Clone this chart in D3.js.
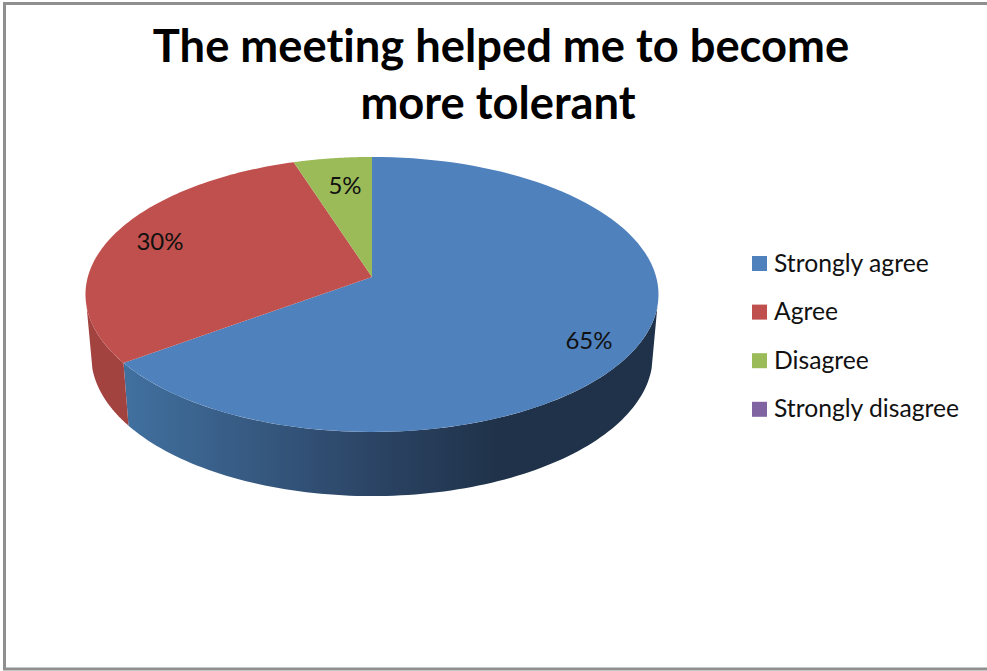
<!DOCTYPE html>
<html><head><meta charset="utf-8">
<script src="https://cdn.jsdelivr.net/npm/d3@7"></script>
<style>html,body{margin:0;padding:0;background:#fff}svg{display:block}text{font-family:Lato,sans-serif;font-variant-ligatures:none}</style>
</head><body><div id="c"></div>
<script>
const titleLines = ["The meeting helped me to become", "more tolerant"];
const categories = ["Strongly agree", "Agree", "Disagree", "Strongly disagree"];
const values = [65, 30, 5, 0];
const colors = ["#4f81bd", "#c0504d", "#9bbb59", "#8064a2"];
const labels = ["65%", "30%", "5%"];

const W = 987, H = 671;
const svg = d3.select("#c").append("svg").attr("width", W).attr("height", H);
svg.append("rect").attr("x", 4.5).attr("y", 3.5).attr("width", W + 10).attr("height", 665.5)
  .attr("fill", "#fff").attr("stroke", "#8f8f8f").attr("stroke-width", 3);

const titleX = [501, 498];
svg.append("g").selectAll("text").data(titleLines).join("text")
  .attr("x", (d, i) => titleX[i]).attr("y", (d, i) => 62 + i * 57)
  .attr("text-anchor", "middle").attr("font-size", 45.3).attr("font-weight", 700).attr("fill", "#000")
  .text(d => d);

// perspective projection of the pie disc
const cx = 372, cy = 277, rx = 284.2, ry = 135.3, k = 0.127;
const lowerCy = 338, lowerSx = 0.98, lowerSy = 1.02;
const px = t => cx + rx * Math.sin(t) / (1 + k * Math.cos(t));
const py = t => cy - ry * Math.cos(t) / (1 + k * Math.cos(t));
const qx = t => cx + lowerSx * (px(t) - cx);
const qy = t => lowerCy + lowerSy * (py(t) - cy);
const arcs = d3.pie().sort(null).value(d => d)(values);
const samples = (a, b) => d3.range(0, 101).map(i => a + (b - a) * i / 100);
const line = d3.line();

const defs = svg.append("defs");
const g = defs.append("linearGradient").attr("id", "side").attr("gradientUnits", "userSpaceOnUse")
  .attr("x1", 125).attr("x2", 500).attr("y1", 0).attr("y2", 0);
[[0, "#41709f"], [0.65, "#2c4566"], [1, "#1f3249"]].forEach(s => g.append("stop").attr("offset", s[0]).attr("stop-color", s[1]));

// visible rim: only the front part of each slice
const frontStart = Math.PI / 2 + 0.217, frontEnd = 3 * Math.PI / 2 - 0.217;
const rim = (a, b) => {
  const s = samples(Math.max(a, frontStart), Math.min(b, frontEnd));
  return line([...s.map(t => [px(t), py(t)]), ...s.slice().reverse().map(t => [qx(t), qy(t)])]) + "Z";
};
svg.append("path").attr("d", rim(arcs[0].startAngle, arcs[0].endAngle)).attr("fill", "url(#side)");
svg.append("path").attr("d", rim(arcs[1].startAngle, arcs[1].endAngle)).attr("fill", "#a2433f");

svg.append("g").selectAll("path").data(arcs.filter(d => d.value > 0)).join("path")
  .attr("d", d => line([[cx, cy], ...samples(d.startAngle, d.endAngle).map(t => [px(t), py(t)])]) + "Z")
  .attr("fill", (d, i) => colors[i]);

const labelPos = [[589, 341], [160, 242], [345, 186]];
svg.append("g").selectAll("text").data(labels).join("text")
  .attr("x", (d, i) => labelPos[i][0]).attr("y", (d, i) => labelPos[i][1] + 8)
  .attr("text-anchor", "middle").attr("font-size", 24).attr("fill", "#111").text(d => d);

const lg = svg.append("g").selectAll("g").data(categories).join("g")
  .attr("transform", (d, i) => `translate(752,${256 + i * 48.6})`);
lg.append("rect").attr("width", 15).attr("height", 15).attr("fill", (d, i) => colors[i]);
lg.append("text").attr("x", 22).attr("y", 15.5).attr("font-size", 24.7).attr("fill", "#111").text(d => d);
</script></body></html>
